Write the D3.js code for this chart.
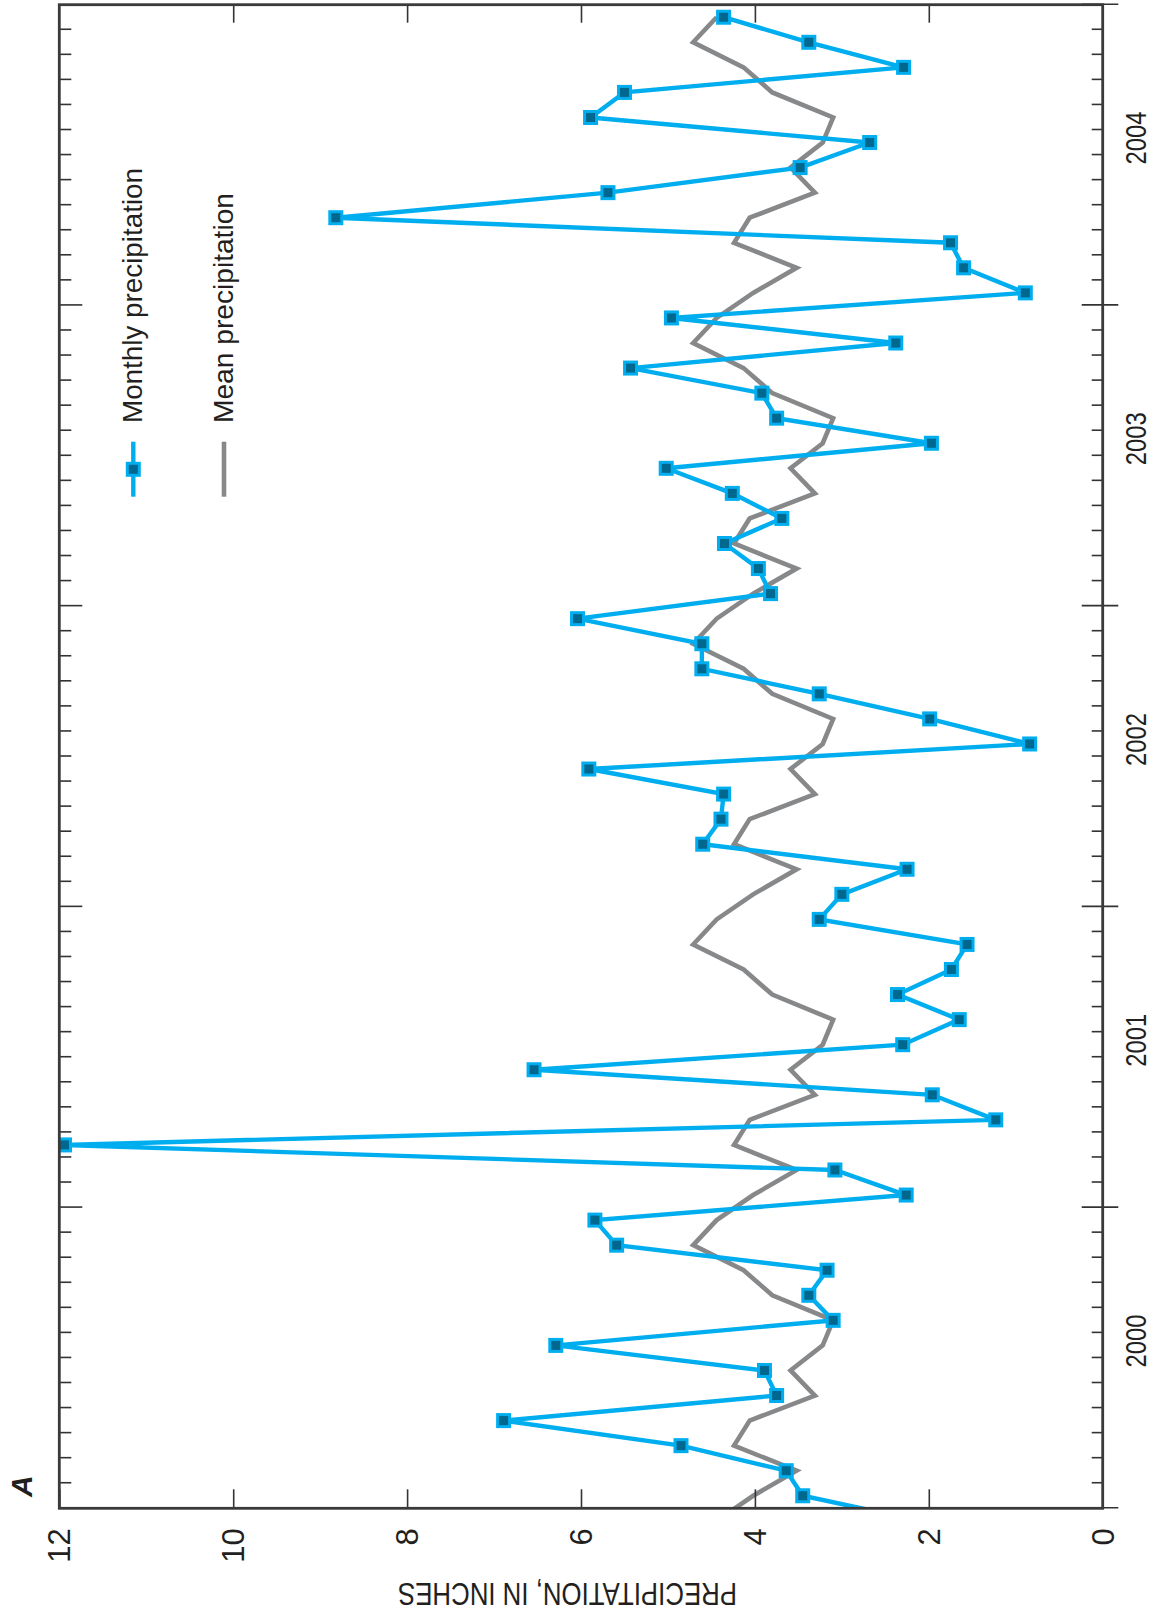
<!DOCTYPE html>
<html>
<head>
<meta charset="utf-8">
<script src="https://cdn.jsdelivr.net/npm/d3@7"></script>
<style>
  html, body { margin: 0; padding: 0; background: #fff; }
  svg { display: block; }
</style>
</head>
<body>
<svg id="chart" width="1152" height="1614"></svg>
<script>
// ---------------- DATA ----------------
const years = ["2000", "2001", "2002", "2003", "2004"];
const valueTicks = [0, 2, 4, 6, 8, 10, 12];
// Monthly precipitation (inches), Jan..Dec
const precipDec1999 = 2.1;
const precip2000 = [3.45, 3.64, 4.85, 6.89, 3.75, 3.89, 6.29, 3.10, 3.38, 3.17, 5.59, 5.84];
const precip2001 = [2.26, 3.08, 11.94, 1.23, 1.96, 6.54, 2.30, 1.65, 2.36, 1.74, 1.56, 3.26];
const precip2002 = [3.00, 2.25, 4.60, 4.39, 4.36, 5.91, 0.84, 1.99, 3.26, 4.61, 4.61, 6.04];
const precip2003 = [3.82, 3.96, 4.35, 3.69, 4.26, 5.02, 1.97, 3.75, 3.92, 5.43, 2.38, 4.96];
const precip2004 = [0.89, 1.60, 1.75, 8.82, 5.69, 3.48, 2.68, 5.89, 5.50, 2.29, 3.38, 4.36];
// Mean monthly precipitation (inches), Jan..Dec
const meanPrecip = [4.02, 3.52, 4.24, 4.06, 3.31, 3.59, 3.22, 3.10, 3.80, 4.13, 4.71, 4.44];
const legendLabels = ["Monthly precipitation", "Mean precipitation"];
const axisTitle = "PRECIPITATION, IN INCHES";
const panelLabel = "A";

// ---------------- BUILD SERIES ----------------
const yearly = [precip2000, precip2001, precip2002, precip2003, precip2004];
const monthly = [{ m: -1, v: precipDec1999 }];
yearly.forEach((arr, yi) => arr.forEach((v, mi) => monthly.push({ m: yi * 12 + mi, v })));
const meanSeries = [];
for (let m = -1; m < 60; m++) meanSeries.push({ m, v: meanPrecip[(m + 12) % 12] });

// ---------------- LAYOUT (unrotated frame: 1614 wide x 1152 tall) ----------------
const BLUE = "#00aeef", DARK = "#00678f", GRAY = "#87888a", AX = "#333333";
const FONT = "'Liberation Sans Narrow','Arial Narrow','Liberation Sans',Arial,sans-serif";

const svg = d3.select("#chart");
svg.append("rect").attr("width", 1152).attr("height", 1614).attr("fill", "#fff");
const g = svg.append("g").attr("transform", "translate(0,1614) rotate(-90)");

const x = d3.scaleLinear().domain([0, 60]).range([105.7, 1609.3]);
const y = d3.scaleLinear().domain([0, 12]).range([1102.7, 59.3]);

g.append("clipPath").attr("id", "plotclip")
  .append("rect")
  .attr("x", x(0)).attr("y", y(12))
  .attr("width", x(60) - x(0)).attr("height", y(0) - y(12));

const plot = g.append("g").attr("clip-path", "url(#plotclip)");
const line = d3.line().x(d => x(d.m + 0.5)).y(d => y(d.v));

plot.append("path").datum(meanSeries)
  .attr("d", line).attr("fill", "none")
  .attr("stroke", GRAY).attr("stroke-width", 4.6).attr("stroke-linejoin", "miter");

plot.append("path").datum(monthly)
  .attr("d", line).attr("fill", "none")
  .attr("stroke", BLUE).attr("stroke-width", 4.4).attr("stroke-linejoin", "miter");

const MS = 12;
plot.selectAll("rect.mk").data(monthly.filter(d => d.m >= 0)).join("rect")
  .attr("class", "mk")
  .attr("x", d => x(d.m + 0.5) - MS / 2).attr("y", d => y(d.v) - MS / 2)
  .attr("width", MS).attr("height", MS)
  .attr("fill", DARK).attr("stroke", BLUE).attr("stroke-width", 3);

// ---------------- AXES ----------------
const monthTicks = d3.range(1, 60).filter(m => m % 12 !== 0);
const yearTicks = d3.range(0, 61, 12);

function styleAxis(sel) {
  sel.select(".domain").remove();
  sel.selectAll(".tick line").attr("stroke", AX).attr("stroke-width", 1.6);
  sel.selectAll("text").attr("fill", "#231f20").attr("font-family", FONT).attr("font-size", 31);
}

// value axis with labels (left in unrotated frame)
g.append("g").attr("transform", `translate(${x(0)},0)`)
  .call(d3.axisLeft(y).tickValues(valueTicks).tickSize(-19).tickPadding(20).tickFormat(d3.format("d")))
  .call(styleAxis)
  .call(s => s.selectAll(".tick text").attr("dy", null).attr("dominant-baseline", "central"));

// value ticks on the opposite side
g.append("g").attr("transform", `translate(${x(60)},0)`)
  .call(d3.axisRight(y).tickValues(valueTicks.slice(1, -1)).tickSize(-18).tickFormat(""))
  .call(styleAxis);

// month ticks on the upper edge
g.append("g").attr("transform", `translate(0,${y(12)})`)
  .call(d3.axisTop(x).tickValues(monthTicks).tickSize(-12).tickFormat(""))
  .call(styleAxis);
g.append("g").attr("transform", `translate(0,${y(12)})`)
  .call(d3.axisTop(x).tickValues(yearTicks.slice(1, -1)).tickSize(-23).tickFormat(""))
  .call(styleAxis);

// time axis (lower edge)
g.append("g").attr("transform", `translate(0,${y(0)})`)
  .call(d3.axisBottom(x).tickValues(monthTicks).tickSize(-11).tickFormat(""))
  .call(styleAxis);
g.append("g").attr("transform", `translate(0,${y(0) - 21})`)
  .call(d3.axisBottom(x).tickValues(yearTicks).tickSize(36.6).tickFormat(""))
  .call(styleAxis);

// year labels
g.append("g").selectAll("text").data(years).join("text")
  .attr("x", (d, i) => x(i * 12 + 6) + 17)
  .attr("y", 1145.5)
  .attr("text-anchor", "middle")
  .attr("font-family", FONT).attr("font-size", 30).attr("fill", "#231f20")
  .attr("textLength", 53).attr("lengthAdjust", "spacingAndGlyphs")
  .text(d => d);

// plot frame
g.append("rect")
  .attr("x", x(0)).attr("y", y(12))
  .attr("width", x(60) - x(0)).attr("height", y(0) - y(12))
  .attr("fill", "none").attr("stroke", "#3a3a3a").attr("stroke-width", 2.8);

// axis title
g.append("text")
  .attr("transform", "translate(31,567.5) rotate(-90)")
  .attr("text-anchor", "middle")
  .attr("font-family", FONT).attr("font-size", 31).attr("fill", "#231f20")
  .attr("textLength", 339).attr("lengthAdjust", "spacingAndGlyphs")
  .text(axisTitle);

// panel label
g.append("text")
  .attr("x", 117).attr("y", 31.7)
  .attr("font-family", "'Liberation Sans',Arial,sans-serif")
  .attr("font-weight", "bold").attr("font-style", "italic")
  .attr("font-size", 30).attr("fill", "#231f20")
  .text(panelLabel);

// ---------------- LEGEND ----------------
const legend = g.append("g");
const legY = [133.3, 224];
legend.append("line")
  .attr("x1", 1117.3).attr("x2", 1172.3).attr("y1", legY[0]).attr("y2", legY[0])
  .attr("stroke", BLUE).attr("stroke-width", 4.4);
legend.append("rect")
  .attr("x", 1144.7 - MS / 2).attr("y", legY[0] - MS / 2)
  .attr("width", MS).attr("height", MS)
  .attr("fill", DARK).attr("stroke", BLUE).attr("stroke-width", 3);
legend.append("line")
  .attr("x1", 1117.3).attr("x2", 1172.3).attr("y1", legY[1]).attr("y2", legY[1])
  .attr("stroke", GRAY).attr("stroke-width", 4.6);
legend.selectAll("text").data(legendLabels).join("text")
  .attr("x", 1191)
  .attr("y", (d, i) => legY[i] + 8.5)
  .attr("font-family", "'Liberation Sans',Arial,sans-serif")
  .attr("font-size", 28).attr("fill", "#231f20")
  .attr("textLength", (d, i) => i === 0 ? 255 : 230)
  .attr("lengthAdjust", "spacingAndGlyphs")
  .text(d => d);
</script>
</body>
</html>
